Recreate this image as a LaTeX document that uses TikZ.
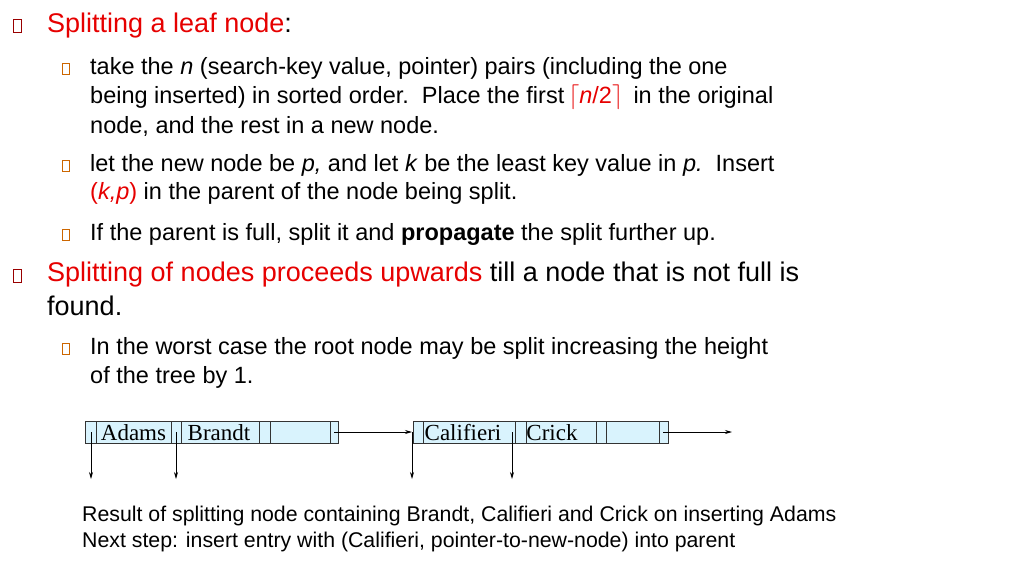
\documentclass[tikz,border=0pt]{standalone}
\usepackage{fontspec}
\setmainfont{Liberation Sans}
\newfontfamily\serifx{Liberation Serif}
\usetikzlibrary{arrows.meta}
\begin{document}
\begin{tikzpicture}[x=1pt,y=-1pt,
  bulA/.style={draw=red!60!black,line width=1pt,minimum width=8pt,minimum height=13pt,inner sep=0pt},
  bulB/.style={draw=orange!80!black,line width=0.9pt,minimum width=7pt,minimum height=11pt,inner sep=0pt},
  tA/.style={anchor=west,font=\fontsize{27}{30}\selectfont,inner sep=0pt},
  tB/.style={anchor=west,font=\fontsize{23.5}{28}\selectfont,inner sep=0pt},
  captext/.style={anchor=west,font=\fontsize{21.3}{24}\selectfont,inner sep=0pt},
  cell/.style={draw=black!80,fill=cyan!15,line width=0.6pt},
  key/.style={font=\serifx\fontsize{23}{24}\selectfont,inner sep=0pt,anchor=base},
  arr/.style={-{Stealth[length=7pt,width=4pt]},line width=0.7pt}]
\useasboundingbox (0,0) rectangle (1010,574);
\definecolor{rd}{RGB}{230,0,0}
\node[bulA] (b1) at (17,26) {};
\node[tA] (t1) at (47,26) {\textcolor{rd}{Splitting a leaf node}:};
\node[bulB] (b2) at (66,69) {};
\node[tB] (t2) at (90,68) {take the \textit{n} (search-key value, pointer) pairs (including the one};
\node[tB] (t3) at (90,97) {being inserted) in sorted order.\ \ Place the first\,\textcolor{rd}{$\lceil$}\textcolor{rd}{\textit{n}/2}\textcolor{rd}{$\rceil$}\, in the original};
\node[tB] (t4) at (90,126) {node, and the rest in a new node.};
\node[bulB] (b3) at (66,166) {};
\node[tB] (t5) at (90,165) {let the new node be \textit{p,} and let \textit{k} be the least key value in \textit{p.}\ \ Insert};
\node[tB] (t6) at (90,193) {\textcolor{rd}{(\textit{k,p})} in the parent of the node being split.};
\node[bulB] (b4) at (66,235) {};
\node[tB] (t7) at (90,234) {If the parent is full, split it and \textbf{propagate} the split further up.};
\node[bulA] (b5) at (17,276) {};
\node[tA] (t8) at (47,275) {\textcolor{rd}{Splitting of nodes proceeds upwards} till a node that is not full is};
\node[tA] (t9) at (47,306) {found.};
\node[bulB] (b6) at (66,349) {};
\node[tB] (t10) at (90,348) {In the worst case the root node may be split increasing the height};
\node[tB] (t11) at (90,377) {of the tree by 1.};
\node[captext] (c1) at (82,516) {Result of splitting node containing Brandt, Califieri and Crick on inserting Adams};
\node[captext] (c2) at (82,542) {Next step: insert entry with (Califieri, pointer-to-new-node) into parent};
\foreach \a/\b in {85/96,96/171,171/181,181/259,259/270,270/330,330/338}{\draw[cell] (\a,421) rectangle (\b,443);}
\foreach \a/\b in {413/423,423/515,515/526,526/596,596/606,606/659,659/668}{\draw[cell] (\a,421) rectangle (\b,443);}
\node[key] (k1) at (133.5,440) {Adams};
\node[key] (k2) at (219,440) {Brandt};
\node[key] (k3) at (463,440) {Califieri};
\node[key] (k4) at (552,440) {Crick};
\coordinate (p1) at (91,432); \coordinate (q1) at (91,479);
\coordinate (p2) at (176,432); \coordinate (q2) at (176,479);
\coordinate (p3) at (412,432); \coordinate (q3) at (412,479);
\coordinate (p4) at (512,432); \coordinate (q4) at (512,479);
\foreach \i in {1,2,3,4}{\draw[arr] (p\i) -- (q\i);}
\coordinate (n1) at (334,432); \coordinate (n2) at (412,432);
\draw[arr] (n1) -- (n2);
\coordinate (m1) at (663,432); \coordinate (m2) at (732,432);
\draw[arr] (m1) -- (m2);
\end{tikzpicture}
\end{document}
